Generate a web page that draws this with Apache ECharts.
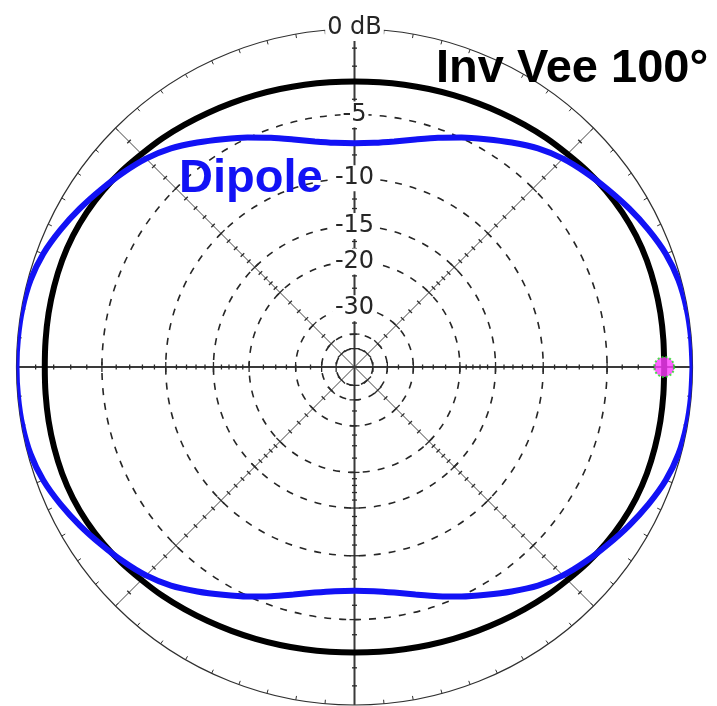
<!DOCTYPE html>
<html>
<head>
<meta charset="utf-8">
<title>Inv Vee 100° vs Dipole</title>
<script src="https://cdn.jsdelivr.net/npm/echarts@6/dist/echarts.min.js"></script>
<style>
  html, body { margin: 0; background: #fff; }
  #chart { width: 717px; height: 706px; }
</style>
</head>
<body>
<div id="chart"></div>
<script>
/* Azimuth pattern, ARRL log scale: 0 dB on the rim, 0° to the right, counter-clockwise. */

// azimuth, degrees
const ANGLES = [
  0, 5, 10, 15, 20, 25, 30, 35, 40, 45, 50, 55, 60, 65, 70, 75, 80, 85,
  90, 95, 100, 105, 110, 115, 120, 125, 130, 135, 140, 145, 150, 155, 160, 165, 170, 175,
  180, 185, 190, 195, 200, 205, 210, 215, 220, 225, 230, 235, 240, 245, 250, 255, 260, 265,
  270, 275, 280, 285, 290, 295, 300, 305, 310, 315, 320, 325, 330, 335, 340, 345, 350, 355
];

// gain in dB
const INV_VEE_DB = [
  -1.50, -1.48, -1.45, -1.43, -1.42, -1.45, -1.53, -1.65, -1.80, -1.98, -2.12, -2.28, -2.43, -2.56, -2.67, -2.76, -2.83, -2.88,
  -2.90, -2.88, -2.83, -2.76, -2.67, -2.56, -2.43, -2.28, -2.12, -1.98, -1.80, -1.65, -1.53, -1.45, -1.42, -1.43, -1.45, -1.48,
  -1.50, -1.48, -1.45, -1.43, -1.42, -1.45, -1.53, -1.65, -1.80, -1.98, -2.12, -2.28, -2.43, -2.56, -2.67, -2.76, -2.83, -2.88,
  -2.90, -2.88, -2.83, -2.76, -2.67, -2.56, -2.43, -2.28, -2.12, -1.98, -1.80, -1.65, -1.53, -1.45, -1.42, -1.43, -1.45, -1.48
];

const DIPOLE_DB = [
  0.00, -0.01, -0.04, -0.13, -0.35, -0.70, -1.10, -1.52, -1.92, -2.35, -2.90, -3.60, -4.30, -4.95, -5.60, -6.20, -6.68, -6.98,
  -7.08, -6.98, -6.68, -6.20, -5.60, -4.95, -4.30, -3.60, -2.90, -2.35, -1.92, -1.52, -1.10, -0.70, -0.35, -0.13, -0.04, -0.01,
  0.00, -0.01, -0.04, -0.13, -0.35, -0.70, -1.10, -1.52, -1.92, -2.35, -2.90, -3.60, -4.30, -4.95, -5.60, -6.20, -6.68, -6.98,
  -7.08, -6.98, -6.68, -6.20, -5.60, -4.95, -4.30, -3.60, -2.90, -2.35, -1.92, -1.52, -1.10, -0.70, -0.35, -0.13, -0.04, -0.01
];

// grid
const RING_DB = [-5, -10, -15, -20, -30, -40, -50];
const RING_LABELS = ['-5', '-10', '-15', '-20', '-30'];
const TICK_DB = [-1, -2, -3, -4, -6, -7, -8, -9, -11, -12, -13, -14, -16, -17, -18, -19, -22.5, -25, -27.5, -35];
const SPOKES = [0, 45, 90, 135, 180, 225, 270, 315];
const TOP_LABEL = '0 dB';

// ARRL scale: every 2 dB shrinks the radius by 0.89
const arrl = (db) => Math.pow(0.89, -db / 2);

const toPolar = (dbs) => {
  const pts = ANGLES.map((a, i) => [arrl(dbs[i]), a]);
  pts.push(pts[0]);
  return pts;
};

const LABEL_FONT = '24px "DejaVu Sans", sans-serif';

function renderGrid(params, api) {
  const c = api.coord([0, 0]);
  const e = api.coord([1, 0]);
  const cx = c[0], cy = c[1];
  const R = Math.abs(e[0] - cx);
  const px = (db) => R * arrl(db);
  const kids = [];
  const seg = (x1, y1, x2, y2, stroke, w) => kids.push({
    type: 'line', shape: { x1, y1, x2, y2 }, style: { stroke, lineWidth: w }
  });

  RING_DB.forEach((db) => kids.push({
    type: 'circle', shape: { cx, cy, r: px(db) },
    style: { fill: null, stroke: '#262626', lineWidth: 1.6, lineDash: [7, 8] }
  }));

  kids.push({ type: 'circle', shape: { cx, cy, r: R }, style: { fill: null, stroke: '#303030', lineWidth: 1.2 } });

  // rim ticks every 5°
  for (let a = 0; a < 360; a += 5) {
    const t = a * Math.PI / 180, co = Math.cos(t), si = Math.sin(t);
    seg(cx + R * co, cy - R * si, cx + (R - 4) * co, cy - (R - 4) * si, '#303030', 1);
  }

  // spokes with dB ticks
  SPOKES.forEach((a) => {
    const t = a * Math.PI / 180, co = Math.cos(t), si = Math.sin(t);
    const main = a % 90 === 0;
    seg(cx, cy, cx + R * co, cy - R * si, main ? '#3a3a3a' : '#444', main ? 2 : 1);
    const tick = (db, h) => {
      const d = px(db), x = cx + d * co, y = cy - d * si;
      seg(x - h * si, y - h * co, x + h * si, y + h * co, '#2a2a2a', 1.3);
    };
    TICK_DB.forEach((db) => tick(db, 2.5));
    RING_DB.forEach((db) => tick(db, 5));
  });

  const label = (text, y) => kids.push({
    type: 'text',
    style: {
      text, x: cx, y, font: LABEL_FONT, fill: '#262626',
      align: 'center', verticalAlign: 'middle',
      backgroundColor: '#fff', padding: [1, 2]
    }
  });
  label(TOP_LABEL, cy - R - 1);
  RING_LABELS.forEach((t, i) => label(t, cy - px(RING_DB[i])));

  return { type: 'group', children: kids };
}

const chart = echarts.init(document.getElementById('chart'), null, { renderer: 'canvas' });

chart.setOption({
  animation: false,
  backgroundColor: '#fff',
  polar: { center: [354.5, 367], radius: 338 },
  angleAxis: { type: 'value', min: 0, max: 360, startAngle: 0, clockwise: false, show: false },
  radiusAxis: { type: 'value', min: 0, max: 1, show: false },
  graphic: [
    {
      type: 'text', left: 436, top: 46, z: 100,
      style: { text: 'Inv Vee 100°', font: 'bold 47px "Liberation Sans", Arial, sans-serif', fill: '#000' }
    },
    {
      type: 'text', left: 179, top: 156, z: 100,
      style: { text: 'Dipole', font: 'bold 47px "Liberation Sans", Arial, sans-serif', fill: '#1212f5' }
    }
  ],
  series: [
    {
      type: 'custom', coordinateSystem: 'polar', silent: true, z: 1,
      data: [[0, 0]], renderItem: renderGrid
    },
    {
      name: 'Inv Vee 100°', type: 'line', coordinateSystem: 'polar', z: 3,
      data: toPolar(INV_VEE_DB), smooth: 0.25, showSymbol: false,
      lineStyle: { color: '#000', width: 6 }
    },
    {
      name: 'Dipole', type: 'line', coordinateSystem: 'polar', z: 4,
      data: toPolar(DIPOLE_DB), smooth: 0.25, showSymbol: false,
      lineStyle: { color: '#1212f5', width: 6 }
    },
    {
      type: 'scatter', coordinateSystem: 'polar', z: 5,
      data: [[arrl(INV_VEE_DB[0]), ANGLES[0]]],
      symbolSize: 20,
      itemStyle: { color: '#ff3cff', borderColor: '#22dd22', borderWidth: 2, borderType: 'dotted' }
    }
  ]
});
</script>
</body>
</html>
